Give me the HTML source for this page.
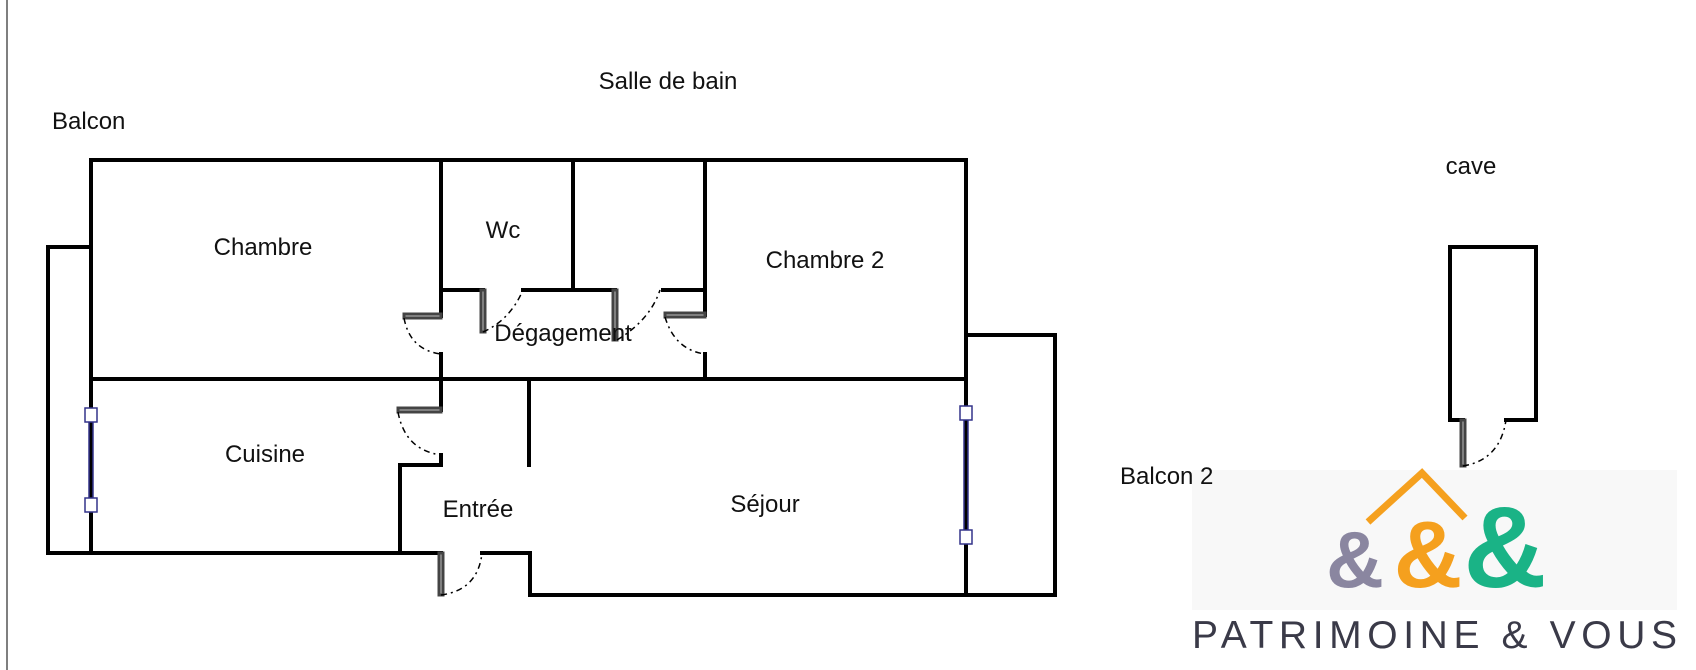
<!DOCTYPE html>
<html><head><meta charset="utf-8"><style>
body{margin:0;background:#fff;width:1696px;height:670px;overflow:hidden}
svg{display:block}
text{font-family:"Liberation Sans","DejaVu Sans",sans-serif;fill:#111}
</style></head><body>
<svg width="1696" height="670" viewBox="0 0 1696 670">
<line x1="7" y1="0" x2="7" y2="670" stroke="#555" stroke-width="1.5"/>
<!-- logo bg -->
<rect x="1192" y="470" width="485" height="140" fill="#f8f8f8"/>
<g stroke="#000" stroke-width="4" fill="none" stroke-linecap="square">
<line x1="91" y1="160" x2="966" y2="160"/>
<line x1="91" y1="160" x2="91" y2="553"/>
<line x1="966" y1="160" x2="966" y2="595"/>
<line x1="91" y1="379" x2="966" y2="379"/>
<polyline points="91,247 48,247 48,553 441,553"/>
<line x1="441" y1="160" x2="441" y2="316"/>
<line x1="441" y1="354" x2="441" y2="410"/>
<line x1="573" y1="160" x2="573" y2="290"/>
<line x1="705" y1="160" x2="705" y2="315"/>
<line x1="705" y1="354" x2="705" y2="379"/>
<line x1="441" y1="290" x2="483" y2="290"/>
<line x1="523" y1="290" x2="615" y2="290"/>
<line x1="663" y1="290" x2="705" y2="290"/>
<line x1="529" y1="379" x2="529" y2="465"/>
<polyline points="441,455 441,465 400,465 400,553"/>
<polyline points="482,553 530,553 530,595 1055,595 1055,335 966,335"/>
<polyline points="1463,420 1450,420 1450,247 1536,247 1536,420 1506,420"/>
</g>
<g stroke="#444" stroke-width="3" fill="#bbb">
<rect x="481" y="290" width="4" height="42"/>
<rect x="613" y="290" width="4" height="50"/>
<rect x="665" y="313" width="40" height="4"/>
<rect x="404" y="314" width="37" height="4"/>
<rect x="398" y="408" width="43" height="4"/>
<rect x="439" y="553" width="4" height="42"/>
<rect x="1461" y="420" width="4" height="46"/>
</g>
<g stroke="#000" stroke-width="1.5" fill="none" stroke-dasharray="6,4,2,4">
<path d="M483,332 Q510,320 523,290"/>
<path d="M617,340 Q650,320 660,290"/>
<path d="M665,317 Q675,350 705,354"/>
<path d="M404,318 Q410,350 441,354"/>
<path d="M398,412 Q405,450 441,455"/>
<path d="M441,595 Q478,590 482,553"/>
<path d="M1463,466 Q1500,460 1506,420"/>
</g>
<g stroke="#33338a" stroke-width="1.5" fill="#fff">
<line x1="89" y1="414" x2="89" y2="505"/><line x1="93" y1="414" x2="93" y2="505"/>
<rect x="85" y="408" width="12" height="14"/><rect x="85" y="498" width="12" height="14"/>
<line x1="964" y1="412" x2="964" y2="537"/><line x1="968" y1="412" x2="968" y2="537"/>
<rect x="960" y="406" width="12" height="14"/><rect x="960" y="530" width="12" height="14"/>
</g>
<g font-size="24">
<text x="668" y="89" text-anchor="middle">Salle de bain</text>
<text x="52" y="129">Balcon</text>
<text x="263" y="255" text-anchor="middle">Chambre</text>
<text x="503" y="238" text-anchor="middle">Wc</text>
<text x="825" y="268" text-anchor="middle">Chambre 2</text>
<text x="563" y="341" text-anchor="middle">Dégagement</text>
<text x="265" y="462" text-anchor="middle">Cuisine</text>
<text x="478" y="517" text-anchor="middle">Entrée</text>
<text x="765" y="512" text-anchor="middle">Séjour</text>
<text x="1120" y="484">Balcon 2</text>
<text x="1471" y="174" text-anchor="middle">cave</text>
</g>
<polyline points="1368,522 1422,473 1465,518" stroke="#f5a01e" stroke-width="7" fill="none"/>
<text x="1355" y="587" font-size="80" text-anchor="middle" style="fill:#8a86a0;font-weight:bold">&amp;</text>
<text x="1428" y="587" font-size="95" text-anchor="middle" style="fill:#f5a01e;font-weight:bold">&amp;</text>
<text x="1505" y="587" font-size="115" text-anchor="middle" style="fill:#1ab386;font-weight:bold">&amp;</text>
<text x="1192" y="648" font-size="39" textLength="485" lengthAdjust="spacing" style="fill:#3a3a48">PATRIMOINE &amp; VOUS</text>
</svg>
</body></html>
